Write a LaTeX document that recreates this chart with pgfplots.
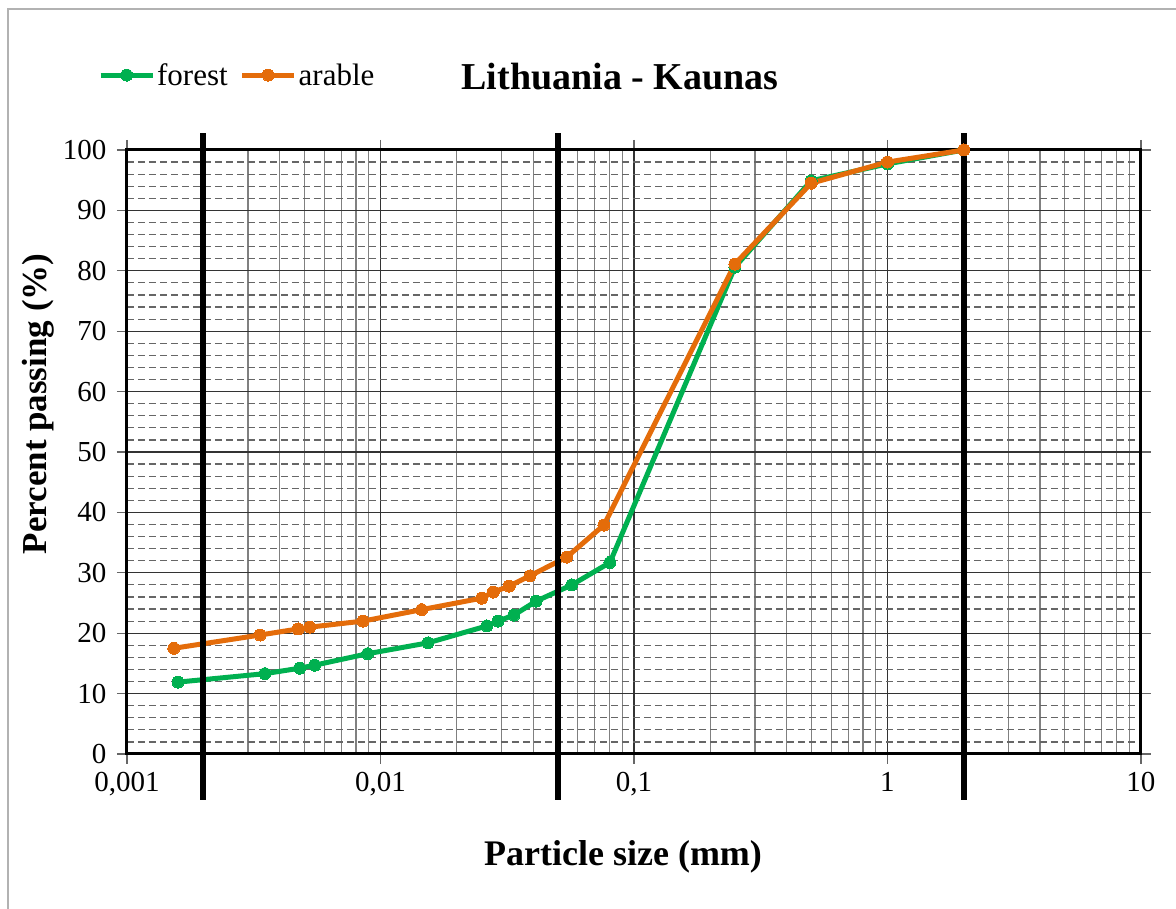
\documentclass[border=0pt]{standalone}
\usepackage{fontspec}
\setmainfont{Liberation Serif}
\usepackage{pgfplots}
\pgfplotsset{compat=1.18}
\definecolor{fgreen}{RGB}{0,176,80}
\definecolor{forange}{RGB}{228,108,10}
\begin{document}
\begin{tikzpicture}
\useasboundingbox (0pt,0pt) rectangle (1176pt,909pt);
\draw[gray!60, line width=2pt] (8pt,0pt) -- (8pt,900pt) -- (1176pt,900pt);
\begin{axis}[
  at={(127pt,155pt)}, anchor=south west, scale only axis,
  width=1014pt, height=604pt,
  xmode=log, xmin=0.001, xmax=10, ymin=0, ymax=100,
  clip=false,
  axis line style={line width=3pt, line cap=rect},
  xtick={0.001,0.01,0.1,1,10},
  xticklabels={{0,001},{0,01},{0,1},1,10},
  ytick={0,10,...,100},
  minor ytick={2,4,...,98},
  tick align=outside,
  major tick length=10pt, minor tick length=0pt,
  major tick style={line width=1.2pt, black!60},
  grid=both,
  major grid style={line width=1.2pt, black!80},
  minor x grid style={line width=1.2pt, black!50},
  minor y grid style={line width=1.2pt, black!60, dash pattern=on 7pt off 4pt},
  /pgf/number format/assume math mode=true,
  tick label style={font=\fontsize{29}{34}\selectfont},
  yticklabel style={xshift=-7pt},
  xticklabel style={yshift=-5pt},
  legend style={at={(-0.0316,1.124)}, anchor=west, draw=none, fill=none,
    legend columns=2, font=\fontsize{31}{36}\selectfont,
    /tikz/every even column/.append style={column sep=10pt}},
  legend image code/.code={\draw[#1, mark repeat=2, mark phase=2] plot coordinates {(0pt,0pt) (26pt,0pt) (52pt,0pt)};},
]
\addplot[fgreen, line width=5pt, mark=*, mark size=6pt, mark options={line width=0pt}] coordinates {
(0.00159,11.9) (0.0035,13.3) (0.0048,14.2) (0.0055,14.7) (0.0089,16.6) (0.0154,18.4) (0.0263,21.2) (0.0291,22.0) (0.0336,23.0) (0.0411,25.3) (0.0569,28.0) (0.0804,31.7) (0.25,80.6) (0.5,94.9) (1,97.7) (2,100)
};
\addlegendentry{forest}
\addplot[forange, line width=5pt, mark=*, mark size=6pt, mark options={line width=0pt}] coordinates {
(0.00153,17.5) (0.00335,19.7) (0.00473,20.7) (0.00526,21.0) (0.00853,22.0) (0.01454,23.9) (0.02507,25.8) (0.02787,26.8) (0.0322,27.8) (0.0389,29.5) (0.0543,32.6) (0.0761,37.9) (0.25,81.1) (0.5,94.5) (1,98.0) (2,100)
};
\addlegendentry{arable}
\addplot[black, line width=6pt, forget plot] coordinates {(0.002,-7.6) (0.002,102.8)};
\addplot[black, line width=6pt, forget plot] coordinates {(0.05,-7.6) (0.05,102.8)};
\addplot[black, line width=6pt, forget plot] coordinates {(2,-7.6) (2,102.8)};
\end{axis}
\node[font=\fontsize{38}{44}\selectfont\bfseries] at (620pt,832pt) {Lithuania - Kaunas};
\node[font=\fontsize{36}{42}\selectfont\bfseries] at (623pt,52pt) {Particle size (mm)};
\node[font=\fontsize{35}{41}\selectfont\bfseries, rotate=90] at (38pt,505pt) {Percent passing (\%)};
\end{tikzpicture}
\end{document}
